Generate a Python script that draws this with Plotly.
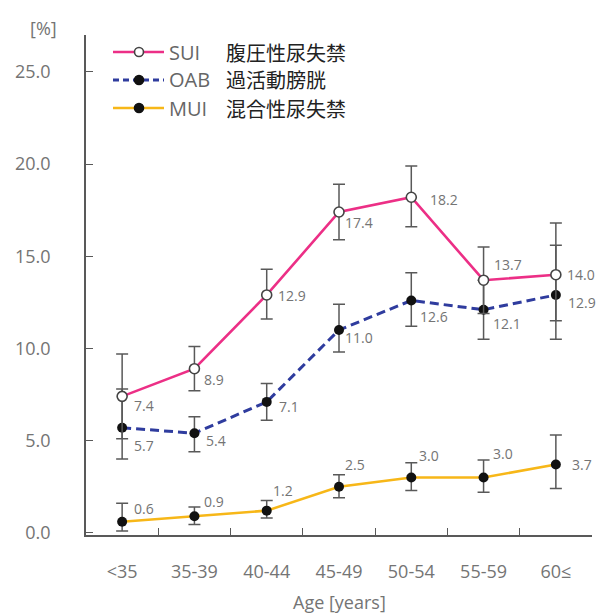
import plotly.graph_objects as go

# Age groups and prevalence (%) with 95% CI bounds
ages = ["<35", "35-39", "40-44", "45-49", "50-54", "55-59", "60≤"]

sui = [7.4, 8.9, 12.9, 17.4, 18.2, 13.7, 14.0]
sui_lo = [5.1, 7.7, 11.6, 15.9, 16.6, 11.9, 11.5]
sui_hi = [9.7, 10.1, 14.3, 18.9, 19.9, 15.5, 16.8]

oab = [5.7, 5.4, 7.1, 11.0, 12.6, 12.1, 12.9]
oab_lo = [4.0, 4.4, 6.1, 9.8, 11.2, 10.5, 10.5]
oab_hi = [7.8, 6.3, 8.1, 12.4, 14.1, 13.7, 15.6]

mui = [0.6, 0.9, 1.2, 2.5, 3.0, 3.0, 3.7]
mui_lo = [0.1, 0.45, 0.8, 1.9, 2.3, 2.2, 2.4]
mui_hi = [1.6, 1.4, 1.75, 3.15, 3.8, 3.95, 5.3]

series_names = ["SUI", "OAB", "MUI"]
series_jp = ["腹圧性尿失禁", "過活動膀胱", "混合性尿失禁"]

# value-label offsets (px right, px down) from each marker
sui_off = [(10, 9), (8, 11), (9, 1), (4, 11), (17, 2), (8, -16), (9, 0)]
oab_off = [(10, 18), (10, 7), (10, 5), (4, 8), (7, 16), (7, 14), (10, 8)]
mui_off = [(10, -13), (8, -15), (4, -20), (4, -22), (6, -22), (7, -24), (14, 0)]

PINK = "#ec2f86"
NAVY = "#2f3c9e"
GOLD = "#f7b718"
AXIS = "#595959"
GREY = "#747474"
FONT = "Open Sans, Noto Sans CJK JP, sans-serif"

# plot-area geometry in page pixels
L, R, T, B = 86, 12, 35, 80
W, H = 604, 615
PW, PH = W - L - R, H - T - B


def px(x):
    return (x - L) / PW


def py(y):
    return (H - B - y) / PH


def err(lo, hi, vals):
    return dict(
        type="data", symmetric=False,
        array=[h - v for h, v in zip(hi, vals)],
        arrayminus=[v - l for l, v in zip(lo, vals)],
        color=AXIS, thickness=1.5, width=6,
    )


fig = go.Figure()

fig.add_trace(go.Scatter(
    x=ages, y=mui, mode="lines+markers", name="MUI",
    line=dict(color=GOLD, width=2.6),
    marker=dict(size=10, color="#111111"),
    error_y=err(mui_lo, mui_hi, mui), cliponaxis=False,
))
fig.add_trace(go.Scatter(
    x=ages, y=oab, mode="lines+markers", name="OAB",
    line=dict(color=NAVY, width=3, dash="9px,5px"),
    marker=dict(size=10, color="#111111"),
    error_y=err(oab_lo, oab_hi, oab), cliponaxis=False,
))
fig.add_trace(go.Scatter(
    x=ages, y=sui, mode="lines+markers", name="SUI",
    line=dict(color=PINK, width=2.6),
    marker=dict(size=10, color="white", line=dict(color="#444444", width=1.6)),
    error_y=err(sui_lo, sui_hi, sui), cliponaxis=False,
))

annotations = []
for vals, offs in ((sui, sui_off), (oab, oab_off), (mui, mui_off)):
    for a, v, (dx, dy) in zip(ages, vals, offs):
        annotations.append(dict(
            x=a, y=v, xref="x", yref="y", text=f"{v:.1f}", showarrow=False,
            xanchor="left", yanchor="middle", xshift=dx, yshift=-dy,
            font=dict(size=14, color=GREY, family=FONT),
        ))

# axis captions
annotations.append(dict(
    x=px(43), y=py(28), xref="paper", yref="paper", text="[%]", showarrow=False,
    xanchor="center", yanchor="middle", font=dict(size=18, color=GREY, family=FONT),
))
annotations.append(dict(
    x=px(339), y=py(602), xref="paper", yref="paper", text="Age [years]", showarrow=False,
    xanchor="center", yanchor="middle", font=dict(size=18, color=GREY, family=FONT),
))

# legend drawn by hand
shapes = []
legend_rows = [52, 80, 108]
legend_style = [
    (PINK, False, "white", "#444444"),
    (NAVY, True, "#111111", "#111111"),
    (GOLD, False, "#111111", "#111111"),
]
for row_y, (col, dashed, fill, edge), name, jp in zip(
        legend_rows, legend_style, series_names, series_jp):
    shapes.append(dict(
        type="line", xref="paper", yref="paper",
        x0=px(113), x1=px(164), y0=py(row_y), y1=py(row_y),
        line=dict(color=col, width=3 if dashed else 2.6, dash="6px,4px" if dashed else "solid"),
    ))
    shapes.append(dict(
        type="circle", xref="paper", yref="paper",
        xsizemode="pixel", ysizemode="pixel",
        xanchor=px(139), yanchor=py(row_y),
        x0=-4.5, x1=4.5, y0=-4.5, y1=4.5,
        fillcolor=fill, line=dict(color=edge, width=1.6),
    ))
    annotations.append(dict(
        x=px(167), y=py(row_y), xref="paper", yref="paper", text=name, showarrow=False,
        xanchor="left", yanchor="middle", font=dict(size=20, color="#666666", family=FONT),
    ))
    annotations.append(dict(
        x=px(224), y=py(row_y), xref="paper", yref="paper", text=jp, showarrow=False,
        xanchor="left", yanchor="middle",
        font=dict(size=20, color="#222222", family="Noto Sans CJK JP, sans-serif"),
    ))

fig.update_layout(
    width=W, height=H,
    margin=dict(l=L, r=R, t=T, b=B),
    paper_bgcolor="white", plot_bgcolor="white",
    showlegend=False,
    annotations=annotations,
    shapes=shapes,
    font=dict(family=FONT, color=GREY),
)
# category labels between inside separator ticks
fig.update_xaxes(
    type="category", range=[-0.5, 6.5],
    showline=True, linecolor=AXIS, linewidth=1.6,
    ticks="inside", ticklen=7, tickcolor=AXIS, tickwidth=1.4,
    tickson="boundaries", tickvals=ages, ticktext=ages, ticklabelstandoff=20,
    showgrid=False, zeroline=False,
    tickfont=dict(size=18, color=GREY, family=FONT),
)
fig.update_yaxes(
    range=[-0.12, 27.0],
    tickvals=[0, 5, 10, 15, 20, 25], ticktext=["0.0", "5.0", "10.0", "15.0", "20.0", "25.0"],
    showline=True, linecolor=AXIS, linewidth=1.6,
    ticks="inside", ticklen=7, tickcolor=AXIS, tickwidth=1.4,
    showgrid=False, zeroline=False, ticklabelstandoff=30,
    tickfont=dict(size=18, color=GREY, family=FONT),
)

fig.write_html("out.html")
